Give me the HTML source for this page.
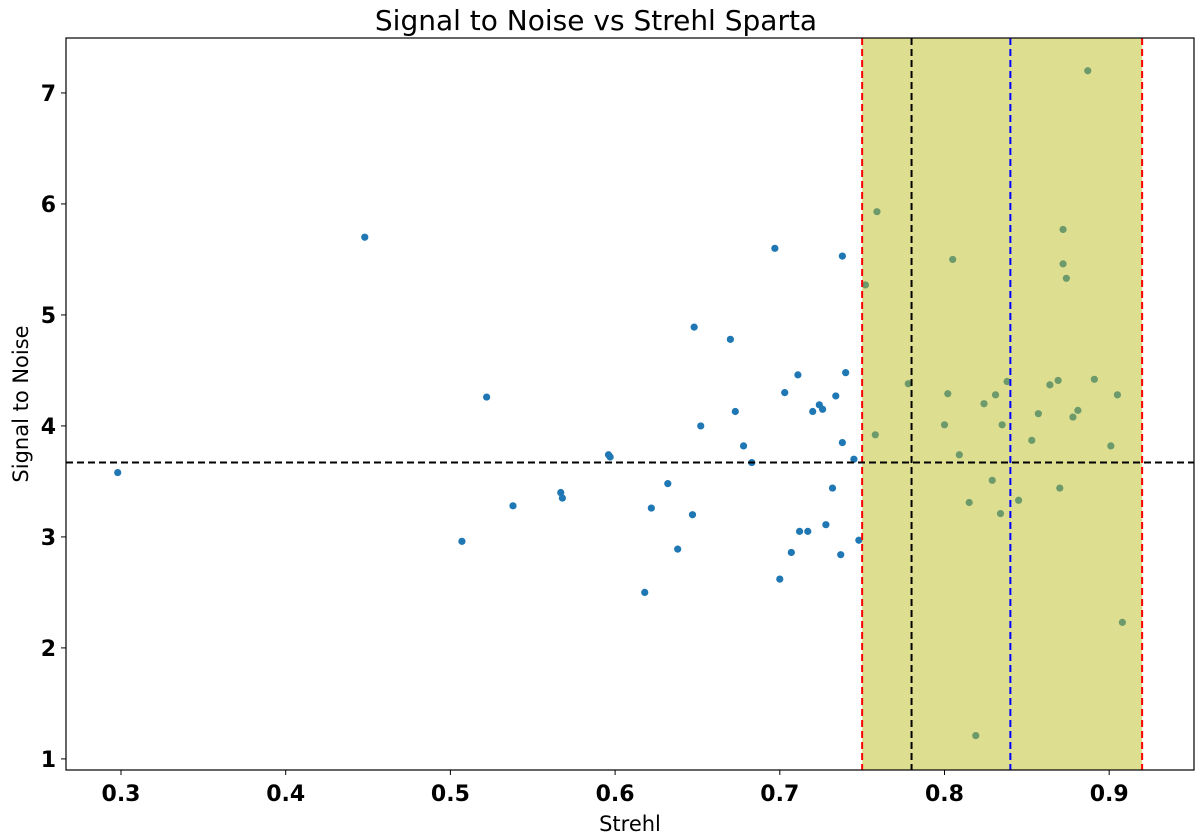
<!DOCTYPE html>
<html><head><meta charset="utf-8"><style>
body{margin:0;background:#fff}
svg{display:block;font-family:"DejaVu Sans","Liberation Sans",sans-serif}
</style></head><body>
<svg id="chart" width="1200" height="837">
<text x="596" y="30" text-anchor="middle" font-size="28">Signal to Noise vs Strehl Sparta</text>
<text x="630" y="831" text-anchor="middle" font-size="21">Strehl</text>
<text transform="translate(28,404) rotate(-90)" text-anchor="middle" font-size="21">Signal to Noise</text>
<g id="plot"></g>
</svg>
<script>
const strehl=[0.298,0.448,0.522,0.507,0.538,0.567,0.568,0.596,0.597,0.618,0.632,0.622,0.638,0.647,0.648,0.652,0.670,0.673,0.678,0.683,0.697,0.703,0.700,0.711,0.707,0.712,0.717,0.720,0.724,0.726,0.728,0.732,0.734,0.738,0.738,0.737,0.740,0.745,0.748,0.752,0.759,0.758,0.778,0.800,0.802,0.805,0.809,0.815,0.819,0.824,0.829,0.831,0.834,0.835,0.838,0.845,0.853,0.857,0.864,0.869,0.870,0.872,0.872,0.874,0.878,0.881,0.887,0.891,0.901,0.905,0.908];
const snr=[3.58,5.70,4.26,2.96,3.28,3.40,3.35,3.74,3.72,2.50,3.48,3.26,2.89,3.20,4.89,4.00,4.78,4.13,3.82,3.67,5.60,4.30,2.62,4.46,2.86,3.05,3.05,4.13,4.19,4.15,3.11,3.44,4.27,5.53,3.85,2.84,4.48,3.70,2.97,5.27,5.93,3.92,4.38,4.01,4.29,5.50,3.74,3.31,1.21,4.20,3.51,4.28,3.21,4.01,4.40,3.33,3.87,4.11,4.37,4.41,3.44,5.46,5.77,5.33,4.08,4.14,7.20,4.42,3.82,4.28,2.23];
const xTicks=[0.3,0.4,0.5,0.6,0.7,0.8,0.9];
const yTicks=[1,2,3,4,5,6,7];
const bandRange=[0.75,0.92];
const vMedian=[0.78];
const vBlue=[0.84];
const hMedian=[3.67];
const L=66,R=1194,T=38,B=770;
const xmin=0.2666,xmax=0.9515,ymin=0.90,ymax=7.495;
const X=v=>L+(v-xmin)/(xmax-xmin)*(R-L);
const Y=v=>B-(v-ymin)/(ymax-ymin)*(B-T);
const NS='http://www.w3.org/2000/svg';
const g=document.getElementById('plot');
function mk(t,a,p){const e=document.createElementNS(NS,t);for(const k in a)e.setAttribute(k,a[k]);(p||g).appendChild(e);return e;}
strehl.forEach((s,i)=>{
 const c=mk('circle',{cx:X(s),cy:Y(snr[i]),r:3.6,fill:'#1f77b4'});
 
 
});
const band=mk('rect',{x:X(bandRange[0]),y:T,width:X(bandRange[1])-X(bandRange[0]),height:B-T,fill:'#bcbd22','fill-opacity':0.5});


bandRange.forEach(v=>{
 const l=mk('line',{x1:X(v),x2:X(v),y1:T,y2:B,stroke:'#ff0000','stroke-width':2,'stroke-dasharray':'7,4'});
 
 
});
vMedian.forEach(v=>{
 const l=mk('line',{x1:X(v),x2:X(v),y1:T,y2:B,stroke:'#000','stroke-width':2,'stroke-dasharray':'7,4'});
 
 
});
vBlue.forEach(v=>{
 const l=mk('line',{x1:X(v),x2:X(v),y1:T,y2:B,stroke:'#0000ff','stroke-width':2,'stroke-dasharray':'7,4'});
 
 
});
hMedian.forEach(v=>{
 const l=mk('line',{x1:L,x2:R,y1:Y(v),y2:Y(v),stroke:'#000','stroke-width':2,'stroke-dasharray':'7,4'});
 
 
});
const fr=mk('rect',{x:L,y:T,width:R-L,height:B-T,fill:'none',stroke:'#000','stroke-width':1.2});


xTicks.forEach(v=>{
 mk('line',{x1:X(v),x2:X(v),y1:B,y2:B+5,stroke:'#000'});
 const t=mk('text',{x:X(v),y:B+31,'text-anchor':'middle','font-size':22,'font-weight':'bold'});
 t.textContent=v.toFixed(1);
 
 
});
yTicks.forEach(v=>{
 mk('line',{x1:L-5,x2:L,y1:Y(v),y2:Y(v),stroke:'#000'});
 const t=mk('text',{x:L-10,y:Y(v)+8,'text-anchor':'end','font-size':22,'font-weight':'bold'});
 t.textContent=v;
 
 
});
</script>
</body></html>
